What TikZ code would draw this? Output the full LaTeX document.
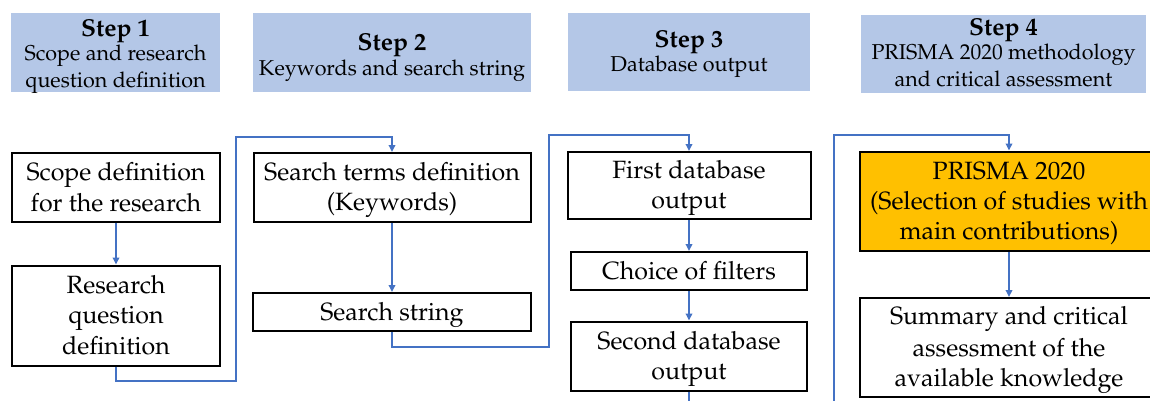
\documentclass[tikz,border=0pt]{standalone}
\usepackage[T1]{fontenc}
\usepackage{mathpazo}
\usetikzlibrary{arrows.meta}

\definecolor{headblue}{HTML}{B4C7E7}
\definecolor{linkblue}{HTML}{4472C4}
\definecolor{prismaorange}{HTML}{FFC000}

% fixed line boxes so that every line takes the same room
\newcommand{\hs}{\rule[-5pt]{0pt}{25pt}}
\newcommand{\bs}{\rule[-6.5pt]{0pt}{30pt}}
\newcommand{\stepname}[1]{\rule[-5pt]{0pt}{27pt}{\fontsize{24.5}{27}\selectfont\bfseries #1}}

\tikzset{
  header/.style={fill=headblue, draw=none, inner sep=0pt},
  headtext/.style={inner sep=0pt, align=center,
    font=\fontsize{21.5}{25}\selectfont},
  stagebox/.style={draw=black, line width=2pt, fill=white, inner sep=0pt,
    align=center, font=\fontsize{25}{30}\selectfont},
  flow/.style={draw=linkblue, line width=2pt,
    -{Triangle[length=7pt,width=6.5pt]}},
  link/.style={draw=linkblue, line width=2pt},
}

\begin{document}
\begin{tikzpicture}[x=1pt, y=-1pt]
  \useasboundingbox (0,0) rectangle (1150,401);
  \clip (0,0) rectangle (1150,401);

  % step headers
  \node[header, minimum width=209pt, minimum height=79pt,
    label={[headtext, yshift=-1.5pt]center:\stepname{Step 1}\\[-3pt]\hs Scope and research\\\hs question definition}]
    (h1) at (115.5,52.5) {};
  \node[header, minimum width=278pt, minimum height=79pt,
    label={[headtext, yshift=-2.5pt]center:\stepname{Step 2}\\[-3pt]\hs Keywords and search string}]
    (h2) at (392,52.5) {};
  \node[header, minimum width=242pt, minimum height=78pt,
    label={[headtext, yshift=0.5pt]center:\stepname{Step 3}\\[-3pt]\hs Database output}]
    (h3) at (689,52) {};
  \node[header, minimum width=285pt, minimum height=78pt,
    label={[headtext, yshift=1.5pt]center:\stepname{Step 4}\\[-3pt]\hs PRISMA 2020 methodology\\\hs and critical assessment}]
    (h4) at (1003.5,54) {};

  % step 1
  \node[stagebox, minimum width=208pt, minimum height=69pt] (s1a) at (116,187.5)
    {\bs Scope definition\\\bs for the research};
  \node[stagebox, minimum width=208pt, minimum height=100pt] (s1b) at (116,315.5)
    {\bs Research\\\bs question\\\bs definition};

  % step 2
  \node[stagebox, minimum width=277pt, minimum height=69pt] (s2a) at (392,187.5)
    {\bs Search terms definition\\\bs (Keywords)};
  \node[stagebox, minimum width=278pt, minimum height=38pt] (s2b) at (392,312)
    {\bs Search string};

  % step 3
  \node[stagebox, minimum width=243pt, minimum height=67pt] (s3a) at (689,185.5)
    {\bs First database\\\bs output};
  \node[stagebox, minimum width=236pt, minimum height=38pt] (s3b) at (689,271)
    {\bs Choice of filters};
  \node[stagebox, minimum width=236pt, minimum height=69pt] (s3c) at (689,356)
    {\bs Second database\\\bs output};

  % step 4
  \node[stagebox, fill=prismaorange, minimum width=298pt, minimum height=99pt] (s4a) at (1009,201)
    {\bs PRISMA 2020\\\bs (Selection of studies with\\\bs main contributions)};
  \node[stagebox, minimum width=298pt, minimum height=99pt] (s4b) at (1009,347.5)
    {\bs Summary and critical\\\bs assessment of the\\\bs available knowledge};

  % routing points of the links between steps
  \coordinate (j1) at (236,381);
  \coordinate (j2) at (236,137);
  \coordinate (j3) at (549,347);
  \coordinate (j4) at (549,135);
  \coordinate (out3) at (689,410);
  \coordinate (in4) at (834,410);
  \coordinate (j5) at (834,135);

  % links inside each step
  \draw[flow] (s1a.south) -- (s1b.north);
  \draw[flow] (s2a.south) -- (s2b.north);
  \draw[flow] (s3a.south) -- (s3b.north);
  \draw[flow] (s3b.south) -- (s3c.north);
  \draw[flow] (s4a.south) -- (s4b.north);

  % links between steps
  \draw[flow] (s1b.south) |- (j1) -- (j2) -| (s2a.north);
  \draw[flow] (s2b.south) |- (j3) -- (j4) -| (s3a.north);
  \draw[link] (s3c.south) -- (out3);
  \draw[flow] (in4) -- (j5) -| (s4a.north);
\end{tikzpicture}
\end{document}
